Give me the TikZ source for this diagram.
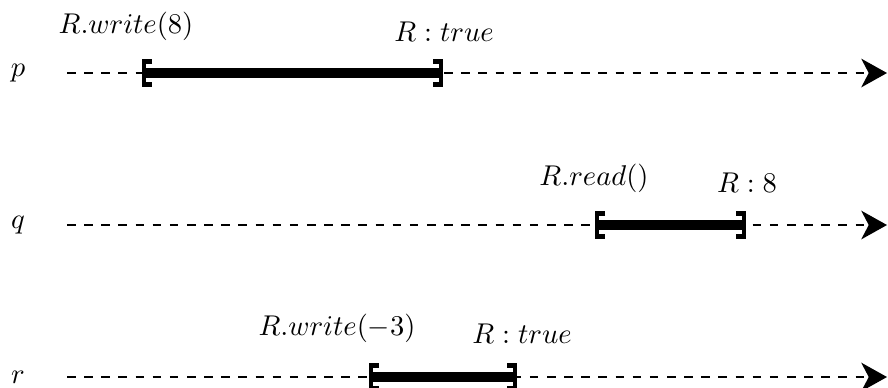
\documentclass[tikz,border=0pt]{standalone}
\usetikzlibrary{arrows.meta}
\begin{document}
\begin{tikzpicture}[x=0.35pt,y=-0.35pt,
  timeline/.style={dashed, line width=0.8pt, -{Stealth[length=9pt,width=10pt,inset=2.6pt]}},
  opline/.style={line width=3.4pt},
  brk/.style={line width=1.45pt, line join=miter},
  proc/.style={inner sep=0pt},
  lbl/.style={anchor=base, inner sep=0pt}]
\useasboundingbox (0,0) rectangle (888,387);
% process labels
\node[proc] (p) at (18,73) {$p$};
\node[proc] (q) at (18,225) {$q$};
\node[proc] (r) at (18,377) {$r$};
% line ends
\coordinate (ps) at (67,73);  \coordinate (pe) at (887,73);
\coordinate (qs) at (67,225); \coordinate (qe) at (887,225);
\coordinate (rs) at (67,377); \coordinate (re) at (887,377);
% operation ends
\coordinate (pa) at (144,73);  \coordinate (pb) at (441,73);
\coordinate (qa) at (597,225); \coordinate (qb) at (744,225);
\coordinate (ra) at (371,377); \coordinate (rb) at (515,377);
% timelines
\draw[timeline] (ps) -- (pe);
\draw[timeline] (qs) -- (qe);
\draw[timeline] (rs) -- (re);
% operations
\foreach \a/\b in {pa/pb,qa/qb,ra/rb}{
  \draw[opline] (\a) -- (\b);
  \draw[brk] (\a) ++(8,-11.5) -- ++(-8,0) -- ++(0,23) -- ++(8,0);
  \draw[brk] (\b) ++(-8,-11.5) -- ++(8,0) -- ++(0,23) -- ++(-8,0);
}
% operation labels
\node[lbl] (pw) at (126,33) {$R.write(8)$};
\node[lbl] (pt) at (444,41) {$R : true$};
\node[lbl] (qw) at (594,185) {$R.read()$};
\node[lbl] (qt) at (747,192) {$R : 8$};
\node[lbl] (rw) at (337,335) {$R.write(-3)$};
\node[lbl] (rt) at (522,343) {$R : true$};
\end{tikzpicture}
\end{document}
